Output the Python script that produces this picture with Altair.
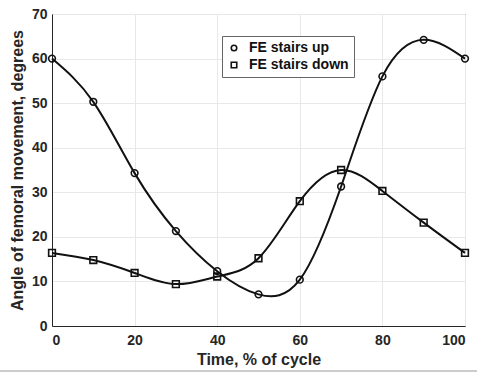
import altair as alt
import pandas as pd

time = [0, 10, 20, 30, 40, 50, 60, 70, 80, 90, 100]
stairs_up = [60.0, 50.3, 34.3, 21.3, 12.3, 7.1, 10.4, 31.3, 56.0, 64.2, 60.0]
stairs_down = [16.4, 14.8, 11.9, 9.4, 11.1, 15.2, 28.0, 35.0, 30.3, 23.2, 16.4]
series_names = ["FE stairs up", "FE stairs down"]

rows = []
for t, u, d in zip(time, stairs_up, stairs_down):
    rows.append({"t": t, "v": u, "s": series_names[0]})
    rows.append({"t": t, "v": d, "s": series_names[1]})
df = pd.DataFrame(rows)

font = "Liberation Sans"
xs = alt.Scale(domain=[0, 100], nice=False)
ys = alt.Scale(domain=[0, 70], nice=False)

x = alt.X("t:Q", scale=xs, title="Time, % of cycle",
          axis=alt.Axis(values=[0, 20, 40, 60, 80, 100], ticks=False,
                        domainColor="#262626", labelFont=font, labelFontSize=14,
                        labelFontWeight="bold", labelColor="#262626", labelPadding=7,
                        titleFont=font, titleFontSize=16, titleFontWeight="bold",
                        titleColor="#262626", titlePadding=4, gridColor="#e8e8e8"))
y = alt.Y("v:Q", scale=ys, title="Angle of femoral movement, degrees",
          axis=alt.Axis(values=[0, 10, 20, 30, 40, 50, 60, 70], ticks=False,
                        domainColor="#262626", labelFont=font, labelFontSize=14,
                        labelFontWeight="bold", labelColor="#262626", labelPadding=5,
                        titleFont=font, titleFontSize=16, titleFontWeight="bold",
                        titleColor="#262626", titlePadding=6, gridColor="#e8e8e8"))

lines = alt.Chart(df).mark_line(color="#111111", strokeWidth=2, interpolate="natural").encode(
    x=x, y=y, detail="s:N")

points = alt.Chart(df).mark_point(filled=False, color="#111111", strokeWidth=1.6, opacity=1, size=45).encode(
    x=alt.X("t:Q", scale=xs),
    y=alt.Y("v:Q", scale=ys),
    shape=alt.Shape("s:N", scale=alt.Scale(domain=series_names, range=["circle", "square"]),
                    legend=alt.Legend(title=None, orient="none", legendX=170, legendY=22,
                                      labelFont=font, labelFontSize=14, labelFontWeight="bold",
                                      labelColor="#111111", strokeColor="#666666", fillColor="white",
                                      padding=5, rowPadding=3, symbolSize=30,
                                      symbolStrokeColor="#111111", symbolStrokeWidth=1.6,
                                      symbolFillColor="white", labelOffset=8, offset=0)),
)

bottom = alt.Chart(pd.DataFrame({"a": [0]})).mark_rule(color="#999999", strokeWidth=1).encode(
    x=alt.value(-52), x2=alt.value(425), y=alt.value(357))

chart = alt.layer(lines, points, bottom).properties(
    width=413, height=312,
    autosize=alt.AutoSizeParams(type="none"),
    padding={"left": 52, "top": 14, "right": 12, "bottom": 48},
    background="white",
).configure_view(stroke="#262626", strokeWidth=1).configure_axis(grid=True)

chart.save("out.html", embed_options={"renderer": "svg", "actions": False})
